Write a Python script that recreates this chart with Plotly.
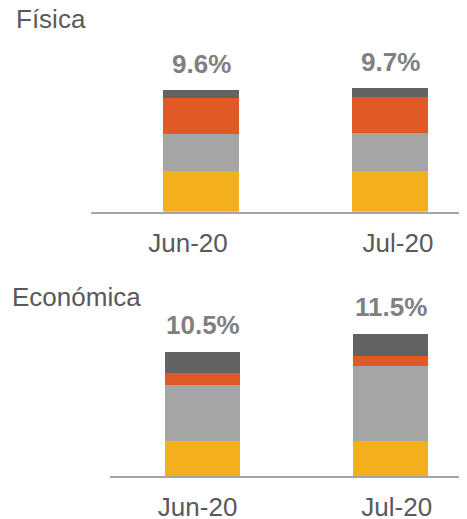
import plotly.graph_objects as go
from plotly.subplots import make_subplots

categories = ["Jun-20", "Jul-20"]
series_names = ["Serie 1", "Serie 2", "Serie 3", "Serie 4"]
colors = ["#F4AF1E", "#A5A5A5", "#E15A26", "#636363"]

# Física (values in %)
fisica = [
    [3.21, 3.21],   # yellow
    [2.89, 3.00],   # light gray
    [2.86, 2.86],   # orange
    [0.63, 0.71],   # dark gray
]
fisica_labels = ["9.6%", "9.7%"]

# Económica (values in %)
economica = [
    [2.96, 2.96],
    [4.77, 6.35],
    [0.96, 0.85],
    [1.80, 1.86],
]
economica_labels = ["10.5%", "11.5%"]

# page body has an 8px margin: draw the figure 8px smaller, offset pixel coords
OFF = 8
W, H = 467 - OFF, 519 - OFF
FONT = "Liberation Sans, Arial, sans-serif"


def py(v):
    return 1 - (v - OFF) / H


def pxx(v):
    return (v - OFF) / W


fig = make_subplots(rows=2, cols=1)
xpos = list(range(len(categories)))

for i, name in enumerate(series_names):
    fig.add_trace(go.Bar(x=xpos, y=fisica[i], name=name, marker_color=colors[i],
                         marker_line_width=0, width=0.402, showlegend=False,
                         hoverinfo="skip"), row=1, col=1)
    fig.add_trace(go.Bar(x=xpos, y=economica[i], name=name, marker_color=colors[i],
                         marker_line_width=0, width=0.40, showlegend=False,
                         hoverinfo="skip"), row=2, col=1)

totals_f = [sum(s[j] for s in fisica) for j in xpos]
totals_e = [sum(s[j] for s in economica) for j in xpos]

annotations = []
for j in xpos:
    annotations.append(dict(x=j, y=totals_f[j], xref="x", yref="y", text=fisica_labels[j],
                            showarrow=False, yanchor="middle", yshift=26,
                            font=dict(family=FONT, size=26, color="#808080", weight="bold")))
    annotations.append(dict(x=j, y=totals_e[j], xref="x2", yref="y2", text=economica_labels[j],
                            showarrow=False, yanchor="middle", yshift=27,
                            font=dict(family=FONT, size=26, color="#808080", weight="bold")))

annotations.append(dict(x=pxx(14), y=py(19), xref="paper", yref="paper", text="Física",
                        showarrow=False, xanchor="left", yanchor="middle",
                        font=dict(family=FONT, size=26, color="#595959")))
annotations.append(dict(x=pxx(10), y=py(297), xref="paper", yref="paper", text="Económica",
                        showarrow=False, xanchor="left", yanchor="middle",
                        font=dict(family=FONT, size=26, color="#595959")))

xaxis_common = dict(tickmode="array", ticktext=categories, showline=True,
                    linecolor="#A6A6A6", linewidth=2, showgrid=False, zeroline=False,
                    ticks="outside", ticklen=7, tickcolor="rgba(0,0,0,0)",
                    tickfont=dict(family=FONT, size=26, color="#595959"),
                    automargin=False, fixedrange=True)
yaxis_common = dict(visible=False, showgrid=False, zeroline=False, automargin=False,
                    fixedrange=True)

fig.update_layout(
    width=W, height=H, barmode="stack", bargap=0,
    margin=dict(l=0, r=0, t=0, b=0),
    paper_bgcolor="white", plot_bgcolor="white",
    annotations=annotations,
    xaxis=dict(domain=[pxx(91), 1], range=[-0.582, 1.407],
               tickvals=[-0.069, 1.042], **xaxis_common),
    yaxis=dict(domain=[py(211.7), py(30)], range=[0, (211.7 - 30) / 12.68],
               **yaxis_common),
    xaxis2=dict(domain=[pxx(110), 1], range=[-0.493, 1.406],
                tickvals=[-0.027, 1.032], **xaxis_common),
    yaxis2=dict(domain=[py(476), py(300)], range=[0, 176 / 11.81],
                **yaxis_common),
)

fig.write_html("out.html")
